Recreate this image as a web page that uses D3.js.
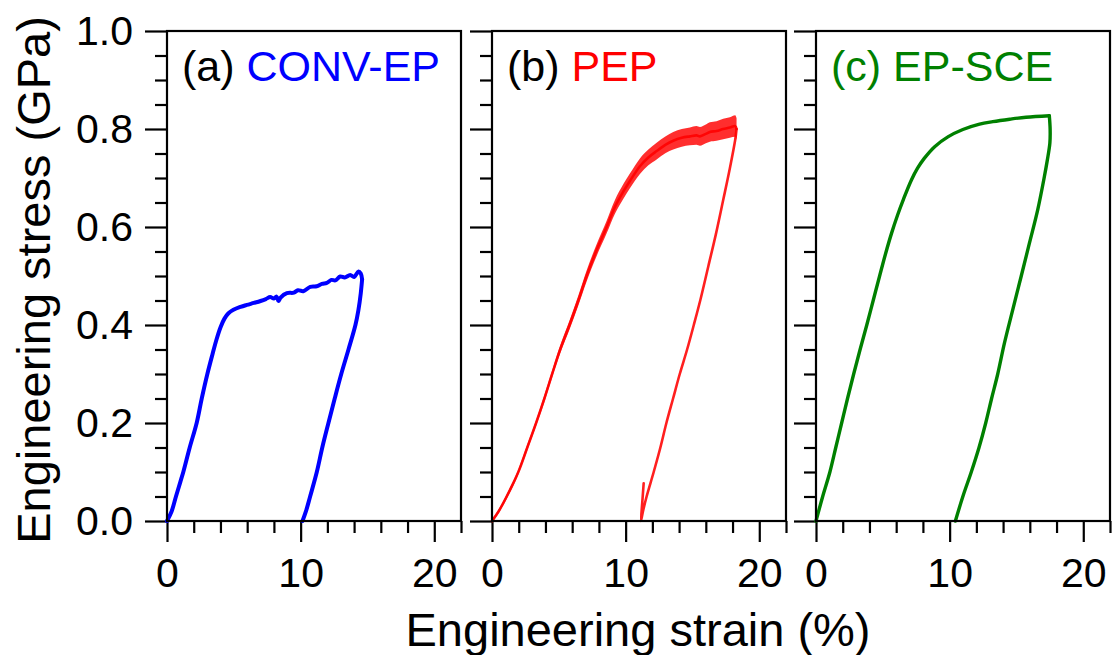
<!DOCTYPE html>
<html>
<head>
<meta charset="utf-8">
<script src="https://cdn.jsdelivr.net/npm/d3@7"></script>
<style>
  html, body { margin: 0; padding: 0; background: #fff; }
  svg { display: block; font-family: "Liberation Sans", Arial, sans-serif; }
</style>
</head>
<body>
<svg id="chart" width="1116" height="655"></svg>
<script>
// Axis ticks
const strainMajor = [0, 10, 20];
const strainMinor = [2, 4, 6, 8, 12, 14, 16, 18, 22];
const stressMajor = [0, 0.2, 0.4, 0.6, 0.8, 1.0];
const stressMinor = [0.05, 0.1, 0.15, 0.25, 0.3, 0.35, 0.45, 0.5, 0.55, 0.65, 0.7, 0.75, 0.85, 0.9, 0.95];

// Panel titles
const panelTags = ["(a) ", "(b) ", "(c) "];
const panelNames = ["CONV-EP", "PEP", "EP-SCE"];
const panelColors = ["#0000ff", "#ff0000", "#008000"];

// (a) CONV-EP: [strain %, stress GPa]
const convLoading = [
  [0, 0], [0.35, 0.02], [0.67, 0.05], [1.0, 0.08], [1.22, 0.10], [1.7, 0.15], [2.22, 0.20],
  [2.6, 0.25], [3.02, 0.30], [3.4, 0.34], [3.7, 0.37], [4.0, 0.395], [4.3, 0.413], [4.6, 0.424],
  [4.97, 0.431], [5.5, 0.437], [5.97, 0.441], [6.5, 0.445], [7.0, 0.449], [7.4, 0.453],
  [7.72, 0.457], [8.0, 0.454], [8.2, 0.458], [8.34, 0.449], [8.5, 0.456], [8.97, 0.465],
  [9.5, 0.466], [9.8, 0.471], [10.2, 0.469], [10.72, 0.478], [11.2, 0.479], [11.6, 0.484],
  [11.96, 0.486], [12.3, 0.492], [12.6, 0.491], [12.96, 0.499], [13.3, 0.497], [13.71, 0.502],
  [14.0, 0.498], [14.33, 0.509], [14.5, 0.505], [14.6, 0.493]
];
const convUnloading = [
  [14.6, 0.493], [14.5, 0.465], [14.32, 0.43], [14.1, 0.40], [13.58, 0.35], [13.04, 0.30],
  [12.55, 0.25], [12.08, 0.20], [11.62, 0.15], [11.21, 0.10], [10.71, 0.05], [10.4, 0.02], [10.14, 0]
];

// (b) PEP
const pepLoading = [
  [0, 0], [0.5, 0.02], [1.1, 0.05], [1.97, 0.10], [2.64, 0.15], [3.3, 0.20], [3.92, 0.25],
  [4.5, 0.30], [5.1, 0.35], [5.8, 0.40], [6.46, 0.45], [7.08, 0.50], [7.83, 0.553], [8.58, 0.60],
  [9.2, 0.641], [9.82, 0.672], [10.32, 0.694], [11.07, 0.724], [11.7, 0.742], [12.32, 0.755],
  [13.0, 0.768], [13.56, 0.776], [14.2, 0.782], [14.81, 0.785], [15.3, 0.787], [15.56, 0.785],
  [16.0, 0.79], [16.3, 0.794], [16.8, 0.796], [17.3, 0.80], [17.8, 0.803], [18.2, 0.806], [18.3, 0.80]
];
// scatter half-width of the noisy loading trace (GPa), one per loading point
const pepScatter = [
  0.004, 0.004, 0.005, 0.005, 0.006, 0.006, 0.007,
  0.007, 0.008, 0.009, 0.010, 0.011, 0.012, 0.013,
  0.014, 0.015, 0.015, 0.016, 0.016, 0.017,
  0.017, 0.018, 0.018, 0.018, 0.019, 0.019,
  0.019, 0.020, 0.020, 0.021, 0.021, 0.022, 0.022
];
const pepUnloading = [
  [18.3, 0.80], [18.2, 0.778], [17.8, 0.72], [17.3, 0.655], [16.75, 0.585], [16.18, 0.519],
  [15.6, 0.452], [15.1, 0.40], [14.6, 0.35], [14.05, 0.30], [13.55, 0.25], [13.05, 0.20],
  [12.6, 0.15], [12.1, 0.10], [11.57, 0.05], [11.3, 0.02], [11.15, 0.0], [11.25, 0.04], [11.35, 0.077]
];

// (c) EP-SCE
const sceLoading = [
  [0, 0], [0.5, 0.05], [1.04, 0.10], [1.48, 0.15], [1.92, 0.20], [2.36, 0.25], [2.82, 0.30],
  [3.3, 0.35], [3.8, 0.40], [4.28, 0.45], [4.76, 0.50], [5.2, 0.545], [5.65, 0.587], [6.1, 0.624],
  [6.55, 0.657], [7.14, 0.696], [7.6, 0.72], [8.1, 0.74], [8.88, 0.764], [9.87, 0.784],
  [10.99, 0.799], [12.24, 0.81], [13.23, 0.815], [14.5, 0.82], [15.72, 0.824], [17.46, 0.827]
];
const sceUnloading = [
  [17.46, 0.827], [17.52, 0.80], [17.5, 0.771], [17.3, 0.735], [17.09, 0.703], [16.59, 0.635],
  [15.97, 0.567], [15.35, 0.499], [14.72, 0.431], [14.1, 0.363], [13.6, 0.30], [13.14, 0.25],
  [12.7, 0.20], [12.2, 0.15], [11.62, 0.10], [10.99, 0.05], [10.43, 0]
];

// ---- layout ----
const svg = d3.select("#chart");
const panelLeft = [167, 492, 816];
const panelWidth = 294;
const plotTop = 31, plotHeight = 490;
const axisStroke = 2.2;
const tickFont = 41, titleFont = 47, tagFont = 43;

const y = d3.scaleLinear().domain([0, 1.0]).range([plotTop + plotHeight, plotTop]);

const curves = [
  { load: convLoading, unload: convUnloading, width: 4 },
  { load: pepLoading, unload: pepUnloading, width: 2.6, scatter: pepScatter },
  { load: sceLoading, unload: sceUnloading, width: 3.4 }
];

panelLeft.forEach((left, i) => {
  const x = d3.scaleLinear().domain([0, 22]).range([left, left + panelWidth]);
  const g = svg.append("g");

  // minor ticks
  g.append("g")
    .attr("transform", `translate(${left},0)`)
    .call(d3.axisLeft(y).tickValues(stressMinor).tickSize(12).tickFormat(""));
  g.append("g")
    .attr("transform", `translate(0,${plotTop + plotHeight})`)
    .call(d3.axisBottom(x).tickValues(strainMinor).tickSize(12).tickFormat(""));

  // major ticks
  g.append("g")
    .attr("transform", `translate(${left},0)`)
    .call(d3.axisLeft(y).tickValues(stressMajor).tickSize(22).tickPadding(12)
      .tickFormat(i === 0 ? d3.format(".1f") : ""));
  g.append("g")
    .attr("transform", `translate(0,${plotTop + plotHeight})`)
    .call(d3.axisBottom(x).tickValues(strainMajor).tickSize(21).tickPadding(16).tickFormat(d3.format("d")));

  g.selectAll(".domain").remove();
  g.selectAll(".tick line").attr("stroke", "#000").attr("stroke-width", axisStroke);
  g.selectAll(".tick text")
    .attr("fill", "#000")
    .style("font-size", tickFont + "px")
    .style("font-family", "'Liberation Sans', Arial, sans-serif");

  // stress-strain curves
  const c = curves[i];
  const line = d3.line().x(d => x(d[0])).y(d => y(d[1]))
    .curve(d3.curveCatmullRom.alpha(0.5));
  if (c.scatter) {
    const band = d3.area()
      .x(d => x(d[0]))
      .y0((d, k) => y(d[1] - c.scatter[k]))
      .y1((d, k) => y(d[1] + c.scatter[k]))
      .curve(d3.curveMonotoneX);
    g.append("path").datum(c.load).attr("d", band)
      .attr("fill", panelColors[i]).attr("fill-opacity", 0.82);
  }
  [c.load, c.unload].forEach(seg => {
    g.append("path").datum(seg).attr("d", line)
      .attr("fill", "none")
      .attr("stroke", panelColors[i])
      .attr("stroke-width", c.width)
      .attr("stroke-opacity", c.scatter ? 0.88 : 1)
      .attr("stroke-linejoin", "round")
      .attr("stroke-linecap", "round");
  });

  // frame
  g.append("rect")
    .attr("x", left).attr("y", plotTop)
    .attr("width", panelWidth).attr("height", plotHeight)
    .attr("fill", "none").attr("stroke", "#000").attr("stroke-width", axisStroke);

  // panel label
  const t = g.append("text")
    .attr("x", left + 15).attr("y", 81)
    .style("font-size", tagFont + "px");
  t.append("tspan").attr("fill", i === 2 ? panelColors[i] : "#000").text(panelTags[i]);
  t.append("tspan").attr("fill", panelColors[i]).text(panelNames[i]);
});

// axis titles
svg.append("text")
  .attr("transform", "translate(50,280) rotate(-90)")
  .attr("text-anchor", "middle")
  .style("font-size", titleFont + "px")
  .text("Engineering stress (GPa)");

svg.append("text")
  .attr("x", 638).attr("y", 646)
  .attr("text-anchor", "middle")
  .style("font-size", titleFont + "px")
  .text("Engineering strain (%)");
</script>
</body>
</html>
